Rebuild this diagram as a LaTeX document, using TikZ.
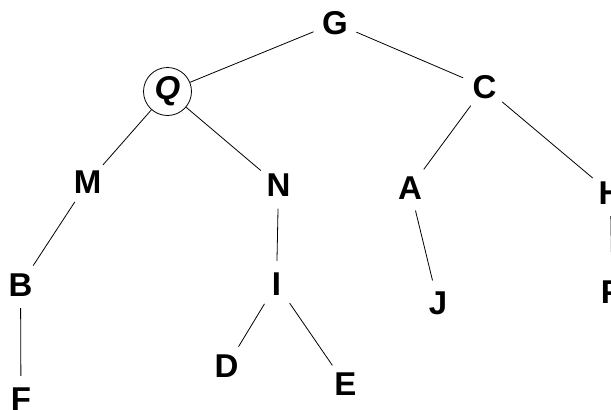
\documentclass[tikz,border=0pt]{standalone}
\usepackage{fontspec}
\setmainfont{Liberation Sans}
\begin{document}
\begin{tikzpicture}[x=1pt,y=-1pt,
  vert/.style={circle,minimum size=46pt,inner sep=0pt,font=\bfseries\fontsize{33}{33}\selectfont},
  mark vert/.style={vert,draw,line width=0.8pt,minimum size=48pt,font=\bfseries\itshape\fontsize{33}{33}\selectfont},
  edge/.style={line width=0.8pt,black}]
\useasboundingbox (0,0) rectangle (611,410);
\node[vert] (G) at (335,23) {G};
\node[mark vert] (Q) at (167.5,91.5) {Q};
\node[vert] (C) at (484.5,87) {C};
\node[vert] (M) at (87.5,182.5) {M};
\node[vert] (N) at (278.5,185.5) {N};
\node[vert] (A) at (410,188) {A};
\node[vert] (H) at (610.5,193) {H};
\node[vert] (B) at (20.5,285) {B};
\node[vert] (I) at (276.5,284) {I};
\node[vert] (J) at (438,303) {J};
\node[vert] (P) at (612,292) {P};
\node[vert] (D) at (226.5,366.5) {D};
\node[vert] (E) at (345.5,384.5) {E};
\node[vert] (F) at (21,399) {F};
\draw[edge] (G) -- (Q);
\draw[edge] (G) -- (C);
\draw[edge] (Q) -- (M);
\draw[edge] (Q) -- (N);
\draw[edge] (C) -- (A);
\draw[edge] (C) -- (H);
\draw[edge] (M) -- (B);
\draw[edge] (B) -- (F);
\draw[edge] (N) -- (I);
\draw[edge] (I) -- (D);
\draw[edge] (I) -- (E);
\draw[edge] (A) -- (J);
\draw[edge] (H) -- (P);
\end{tikzpicture}
\end{document}
